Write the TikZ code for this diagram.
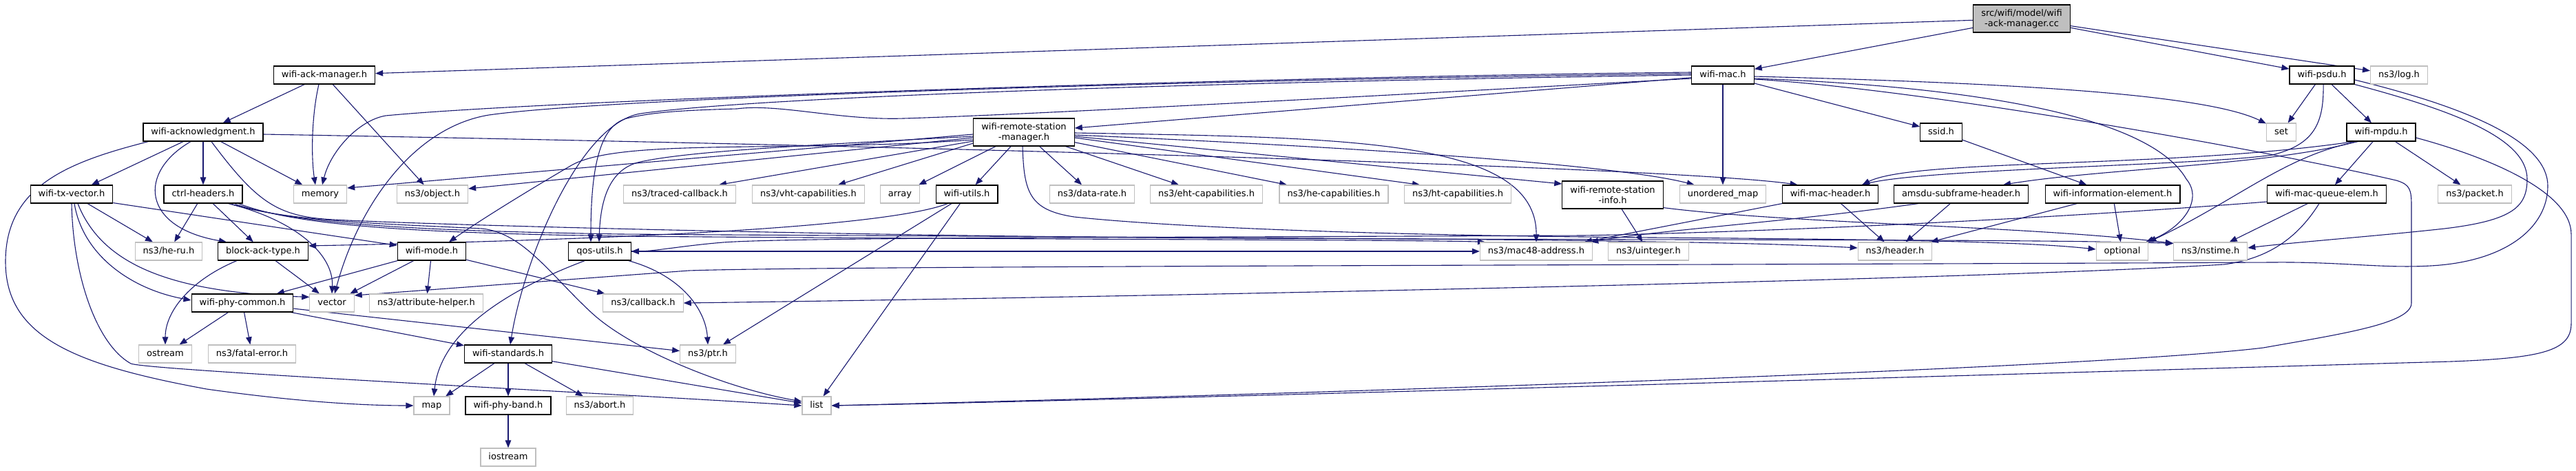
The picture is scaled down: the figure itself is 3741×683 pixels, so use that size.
\documentclass[tikz,border=0pt]{standalone}
\usepackage{fontspec}
\setmainfont{DejaVu Sans}
\usetikzlibrary{arrows.meta,calc}
\definecolor{edgec}{HTML}{191970}
\definecolor{leafgray}{HTML}{BFBFBF}
\definecolor{srcgray}{HTML}{BFBFBF}
\newcommand\dgfont{\fontsize{13pt}{15pt}\selectfont}
\pgfdeclarelayer{bg}
\pgfsetlayers{bg,main}
\tikzset{
  box/.style={line width=1.2pt, inner xsep=11.5pt, inner ysep=0pt, font=\dgfont, fill=white},
  one/.style={minimum height=26pt, text height=9.5pt, text depth=2.5pt},
  two/.style={align=center, minimum height=40pt},
  nd/.style={box, draw=black, one},
  lf/.style={box, draw=leafgray, one},
  ndtwo/.style={box, draw=black, two},
  conn/.style={draw=edgec, line width=1.1pt, -{Triangle[length=11pt,width=8.5pt]}},
}
\begin{document}
\begin{tikzpicture}[x=1pt,y=-1pt]
\useasboundingbox (0,0) rectangle (3741,683);
% row 0
\node[ndtwo,fill=srcgray] (src) at (2936,27) {src/wifi/model/wifi\\-ack-manager.cc};
% row 1
\node[nd] (wam) at (471,109) {wifi-ack-manager.h};
\node[nd] (wmac) at (2502,109) {wifi-mac.h};
\node[nd] (psdu) at (3372,109) {wifi-psdu.h};
\node[lf] (log) at (3484,109) {ns3/log.h};
% row 2
\node[nd] (ack) at (295,192) {wifi-acknowledgment.h};
\node[ndtwo] (rsm) at (1487,192) {wifi-remote-station\\-manager.h};
\node[nd] (ssid) at (2819,192) {ssid.h};
\node[lf] (set) at (3313,192) {set};
\node[nd] (mpdu) at (3458,192) {wifi-mpdu.h};
% row 3
\node[nd] (txv) at (104,282) {wifi-tx-vector.h};
\node[nd] (ctrl) at (295,282) {ctrl-headers.h};
\node[lf] (memory) at (465,282) {memory};
\node[lf] (object) at (628,282) {ns3/object.h};
\node[lf] (traced) at (987,282) {ns3/traced-callback.h};
\node[lf] (vht) at (1174,282) {ns3/vht-capabilities.h};
\node[lf] (array) at (1307,282) {array};
\node[nd] (utils) at (1404,282) {wifi-utils.h};
\node[lf] (datarate) at (1586,282) {ns3/data-rate.h};
\node[lf] (eht) at (1752,282) {ns3/eht-capabilities.h};
\node[lf] (he) at (1937,282) {ns3/he-capabilities.h};
\node[lf] (ht) at (2117,282) {ns3/ht-capabilities.h};
\node[ndtwo] (rsi) at (2342,283) {wifi-remote-station\\-info.h};
\node[lf] (umap) at (2502,282) {unordered\_map};
\node[nd] (mhdr) at (2658,282) {wifi-mac-header.h};
\node[nd] (amsdu) at (2848,282) {amsdu-subframe-header.h};
\node[nd] (wie) at (3068,282) {wifi-information-element.h};
\node[nd] (mqe) at (3379,282) {wifi-mac-queue-elem.h};
\node[lf] (packet) at (3594,282) {ns3/packet.h};
% row 4
\node[lf] (heru) at (245,365) {ns3/he-ru.h};
\node[nd] (bat) at (382,365) {block-ack-type.h};
\node[nd] (mode) at (627,365) {wifi-mode.h};
\node[nd] (qos) at (871,365) {qos-utils.h};
\node[lf] (mac48) at (2231,365) {ns3/mac48-address.h};
\node[lf] (uint) at (2394,365) {ns3/uinteger.h};
\node[lf] (header) at (2752,365) {ns3/header.h};
\node[lf] (optional) at (3082,365) {optional};
\node[lf] (nstime) at (3210,365) {ns3/nstime.h};
% row 5
\node[nd] (phyc) at (352,440) {wifi-phy-common.h};
\node[lf] (vector) at (482,440) {vector};
\node[lf] (attr) at (619,440) {ns3/attribute-helper.h};
\node[lf] (callback) at (934,440) {ns3/callback.h};
% row 6
\node[lf] (ostream) at (240,514) {ostream};
\node[lf] (fatal) at (366,514) {ns3/fatal-error.h};
\node[nd] (std) at (738,514) {wifi-standards.h};
\node[lf] (ptr) at (1028,514) {ns3/ptr.h};
% row 7
\node[lf] (map) at (627,589) {map};
\node[nd] (band) at (738,589) {wifi-phy-band.h};
\node[lf] (abort) at (871,589) {ns3/abort.h};
\node[lf] (list) at (1186,589) {list};
% row 8
\node[lf] (iostream) at (738,664) {iostream};

\begin{pgfonlayer}{bg}
\fill[white] (0,0) rectangle (3741,683);
% src
\draw[conn] (src) -- (wam);
\draw[conn] (src) -- (wmac);
\draw[conn] (src) -- (psdu);
\draw[conn] (src) -- (log);
% wifi-ack-manager.h
\draw[conn] (wam) -- (ack);
\draw[conn] ($(wam.south)+(-8,0)$) .. controls (452,170) and (452,230) .. ($(memory.north)+(-7,0)$);
\draw[conn] (wam) -- (object);
% wifi-acknowledgment.h
\draw[conn] (ack) -- (txv);
\draw[conn] (ack) -- (ctrl);
\draw[conn] (ack) -- (memory);
\draw[conn] ($(ack.south)+(-18,0)$) .. controls (200,250) and (205,330) .. ($(bat.north west)+(13,0)$);
\draw[conn] ($(ack.south west)+(8,0)$) .. controls (100,235) and (8,270) .. (8,380) .. controls (8,490) and (110,530) .. (300,565) .. controls (420,582) and (520,589) .. (map.west);
\draw[conn] ($(ack.east)+(0,3)$) .. controls (1500,215) and (2450,245) .. ($(mhdr.north west)+(23,0)$);
\draw[conn] ($(ack.south)+(12,0)$) .. controls (370,290) and (400,312) .. (470,318) .. controls (540,324) and (1200,343) .. (1800,346) .. controls (2400,349) and (2950,347) .. ($(nstime.north west)+(1,2)$);
% ctrl-headers.h
\draw[conn] (ctrl) -- (heru);
\draw[conn] (ctrl) -- (bat);
\draw[conn] ($(ctrl.south east)+(-21,0)$) .. controls (430,320) and (485,370) .. (vector.north);
\draw[conn] ($(ctrl.south east)+(-16,1)$) .. controls (420,322) and (560,325) .. (700,332) .. controls (760,338) and (800,400) .. (860,455) .. controls (920,510) and (1060,565) .. ($(list.west)+(0,-6)$);
\draw[conn] ($(ctrl.south east)+(-11,1)$) .. controls (430,325) and (600,335) .. (900,340) .. controls (1800,346) and (2450,346) .. ($(header.west)+(0,-5)$);
\draw[conn] ($(ctrl.south east)+(-6,0)$) .. controls (430,328) and (600,338) .. (900,343) .. controls (1500,348) and (2050,348) .. ($(mac48.north west)+(8,0)$);
% wifi-tx-vector.h
\draw[conn] (txv) -- (heru);
\draw[conn] ($(txv.south east)+(0,-1)$) -- ($(mode.north west)+(0,5)$);
\draw[conn] ($(txv.south)+(4,0)$) .. controls (120,370) and (190,420) .. ($(phyc.west)+(0,-4)$);
\draw[conn] ($(txv.south)+(9,0)$) .. controls (150,390) and (260,425) .. ($(vector.north west)+(0,5)$);
\draw[conn] (txv.south) .. controls (106,400) and (140,500) .. (190,528) .. controls (215,538) and (900,572) .. (list.west);
% block-ack-type.h
\draw[conn] ($(bat.south west)+(28,0)$) .. controls (280,405) and (240,450) .. (ostream.north);
\draw[conn] (bat) -- (vector);
% wifi-mode.h
\draw[conn] (mode) -- (phyc);
\draw[conn] (mode) -- (vector);
\draw[conn] (mode) -- (attr);
\draw[conn] (mode) -- (callback);
% qos-utils.h
\draw[conn] ($(qos.south west)+(24,0)$) .. controls (740,420) and (640,480) .. ($(map.north)+(3,0)$);
\draw[conn] ($(qos.south east)+(-4,0)$) .. controls (990,400) and (1025,450) .. (ptr.north);
\draw[conn] (qos) -- (mac48);
% wifi-phy-common.h
\draw[conn] (phyc) -- (ostream);
\draw[conn] (phyc) -- (fatal);
\draw[conn] (phyc) -- (std);
\draw[conn] (phyc) -- (ptr);
% wifi-standards.h
\draw[conn] (std) -- (map);
\draw[conn] (std) -- (band);
\draw[conn] (std) -- (abort);
\draw[conn] (std) -- (list);
\draw[conn] (band) -- (iostream);
% wifi-utils.h
\draw[conn] (utils) -- (ptr);
\draw[conn] (utils) -- (list);
\draw[conn] ($(utils.south west)+(18,0)$) .. controls (1300,325) and (1000,346) .. ($(bat.east)+(0,-8)$);
% wifi-remote-station-manager.h
\draw[conn] ($(rsm.west)+(0,3)$) -- ($(memory.east)+(0,-9)$);
\draw[conn] ($(rsm.west)+(0,8)$) -- ($(object.east)+(0,-8)$);
\draw[conn] ($(rsm.west)+(0,13)$) -- ($(traced.north)+(57,0)$);
\draw[conn] ($(rsm.west)+(0,16)$) -- ($(vht.north)+(43,0)$);
\draw[conn] (rsm) -- (array);
\draw[conn] (rsm) -- (utils);
\draw[conn] (rsm) -- (datarate);
\draw[conn] (rsm) -- (eht);
\draw[conn] (rsm) -- (he);
\draw[conn] ($(rsm.east)+(0,8)$) -- ($(ht.north)+(-55,0)$);
\draw[conn] ($(rsm.east)+(0,6)$) -- ($(rsi.west)+(0,-16)$);
\draw[conn] ($(rsm.east)+(0,4)$) .. controls (2000,215) and (2350,240) .. ($(umap.north west)+(22,0)$);
\draw[conn] ($(rsm.east)+(0,1)$) .. controls (1950,200) and (2232,200) .. (mac48.north);
\draw[conn] ($(rsm.south)+(-2,0)$) .. controls (1487,280) and (1495,305) .. (1560,315) .. controls (1700,330) and (2000,342) .. (2400,345) .. controls (2800,348) and (2950,352) .. ($(optional.west)+(0,-3)$);
\draw[conn] ($(rsm.west)+(0,6)$) .. controls (1150,212) and (1000,220) .. (930,235) .. controls (885,245) and (872,290) .. ($(qos.north)+(-1,0)$);
\draw[conn] ($(rsm.west)+(0,11)$) .. controls (1150,222) and (900,200) .. (830,240) .. controls (770,275) and (700,318) .. ($(mode.north)+(25,0)$);
% wifi-mac.h
\draw[conn] (wmac) -- (rsm);
\draw[conn] (wmac) -- (ssid);
\draw[conn] (wmac) -- (umap);
\draw[conn] ($(wmac.east)+(0,2)$) .. controls (2900,120) and (3200,135) .. ($(set.north west)+(0,1)$);
\draw[conn] ($(wmac.east)+(0,5)$) .. controls (2850,125) and (3120,165) .. (3175,260) .. controls (3200,290) and (3170,330) .. ($(optional.north east)+(-4,0)$);
\draw[conn] ($(wmac.east)+(0,6)$) .. controls (2800,130) and (3300,220) .. (3480,262) .. controls (3500,268) and (3502,275) .. (3502,300) -- (3502,440) .. controls (3502,470) and (3400,485) .. (3287,505) .. controls (3000,540) and (1600,580) .. (list.east);
\draw[conn] ($(wmac.west)+(0,-4)$) .. controls (1800,112) and (800,145) .. (560,168) .. controls (520,175) and (480,220) .. ($(memory.north)+(3,0)$);
\draw[conn] ($(wmac.west)+(0,-2)$) .. controls (1800,115) and (900,140) .. (710,167) .. controls (600,185) and (520,300) .. ($(vector.north)+(4,0)$);
\draw[conn] (wmac.west) .. controls (1800,118) and (1100,140) .. (930,165) .. controls (840,180) and (760,380) .. ($(std.north)+(3,0)$);
\draw[conn] ($(wmac.west)+(0,5)$) .. controls (1900,145) and (1450,168) .. (1312,172) .. controls (1220,175) and (1130,150) .. (1070,158) .. controls (1000,160) and (950,162) .. (910,172) .. controls (875,182) and (858,230) .. ($(qos.north)+(-13,0)$);
% wifi-psdu.h
\draw[conn] (psdu) -- (set);
\draw[conn] (psdu) -- (mpdu);
\draw[conn] ($(psdu.south)+(2,0)$) .. controls (3375,180) and (3360,210) .. (3300,225) .. controls (3200,240) and (2800,245) .. ($(mhdr.north east)+(-25,0)$);
\draw[conn] (psdu.south east) .. controls (3560,160) and (3670,200) .. (3670,260) .. controls (3670,300) and (3650,320) .. (3550,332) .. controls (3450,343) and (3330,352) .. ($(nstime.east)+(0,-5)$);
\draw[conn] ($(psdu.east)+(0,7)$) .. controls (3600,160) and (3700,210) .. (3700,270) .. controls (3700,330) and (3640,380) .. (3530,386) .. controls (3460,390) and (3400,380) .. (3300,381) .. controls (2500,385) and (1200,386) .. (1000,393) -- ($(vector.east)+(0,-11)$);
% wifi-mpdu.h
\draw[conn] (mpdu) -- (mqe);
\draw[conn] (mpdu) -- (packet);
\draw[conn] ($(mpdu.south west)+(15,0)$) .. controls (3300,240) and (3050,245) .. ($(amsdu.north)+(61,0)$);
\draw[conn] ($(mpdu.south west)+(11,0)$) .. controls (3150,245) and (2780,230) .. ($(mhdr.north east)+(-24,0)$);
\draw[conn] ($(mpdu.south west)+(17,0)$) .. controls (3320,225) and (3250,290) .. (optional.north east);
\draw[conn] ($(mpdu.east)+(0,8)$) .. controls (3620,230) and (3734,280) .. (3734,340) -- (3734,470) .. controls (3734,510) and (3690,520) .. (3560,525) .. controls (3200,535) and (1700,580) .. (list.east);
% wifi-mac-queue-elem.h
\draw[conn] (mqe) -- (nstime);
\draw[conn] ($(mqe.south)+(-11,0)$) .. controls (3340,340) and (3300,375) .. (3230,384) .. controls (2800,410) and (1400,435) .. (callback.east);
\draw[conn] ($(mqe.west)+(0,11)$) .. controls (3000,316) and (2600,336) .. (2300,342) .. controls (1600,345) and (1150,345) .. (1050,352) .. controls (990,357) and (950,365) .. (qos.east);
% ssid, information element, mac header, amsdu, station info
\draw[conn] (ssid) -- (wie);
\draw[conn] (wie) -- (header);
\draw[conn] (wie) -- (optional);
\draw[conn] (mhdr) -- (header);
\draw[conn] (mhdr) -- (mac48);
\draw[conn] (amsdu) -- (header);
\draw[conn] ($(amsdu.south west)+(36,0)$) .. controls (2600,322) and (2400,335) .. ($(mac48.north east)+(-3,0)$);
\draw[conn] (rsi) -- (uint);
\draw[conn] ($(rsi.south east)+(0,-2)$) .. controls (2600,325) and (2950,328) .. ($(nstime.north west)+(0,2)$);
\end{pgfonlayer}
\end{tikzpicture}
\end{document}
